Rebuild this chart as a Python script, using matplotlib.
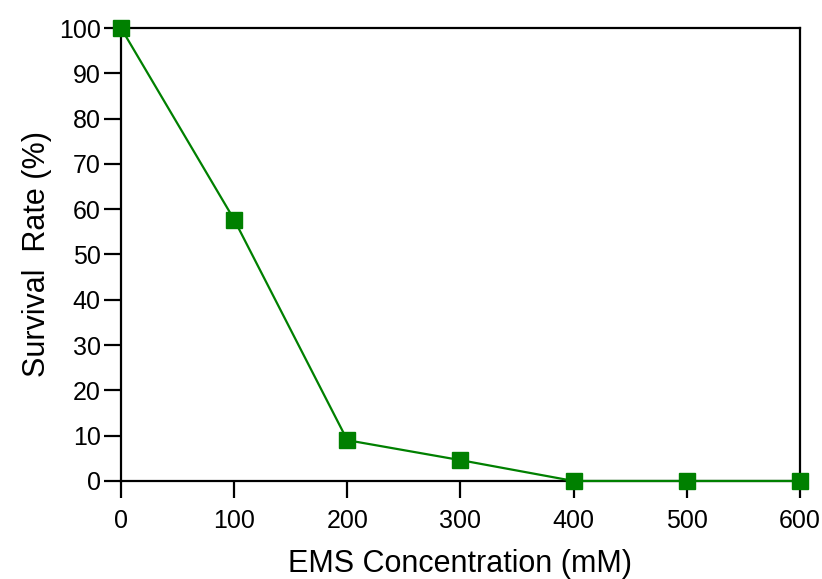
#!/usr/bin/env python3
"""Survival rate vs EMS concentration."""

import matplotlib
matplotlib.use("Agg")
import matplotlib.pyplot as plt

plt.rcParams["font.family"] = ["Liberation Sans", "DejaVu Sans"]

EMS_MM = [0, 100, 200, 300, 400, 500, 600]
SURVIVAL = [100, 57.7, 9.0, 4.6, 0, 0, 0]

X_TICKS = list(range(0, 601, 100))
Y_TICKS = list(range(0, 101, 10))

GREEN = "#008000"


def main():
    fig = plt.figure(figsize=(8.22, 5.79), dpi=100)
    ax = fig.add_axes([0.1472, 0.1693, 0.826, 0.7823])

    ax.plot(EMS_MM, SURVIVAL, color=GREEN, linewidth=1.6, marker="s",
            markersize=11, markerfacecolor=GREEN, markeredgecolor=GREEN,
            clip_on=False, zorder=5)

    ax.set_xlim(0, 600)
    ax.set_ylim(0, 100)
    ax.set_xticks(X_TICKS)
    ax.set_yticks(Y_TICKS)

    for sp in ax.spines.values():
        sp.set_linewidth(1.6)
        sp.set_color("black")
    ax.tick_params(direction="out", length=12.5, width=1.6, labelsize=18,
                   colors="black")
    ax.tick_params(axis="x", pad=8)
    ax.tick_params(axis="y", pad=2)

    ax.set_xlabel("EMS Concentration (mM)", fontsize=22, labelpad=11)
    ax.set_ylabel("Survival  Rate (%)", fontsize=22, labelpad=5)

    fig.savefig("out.png", dpi=100)
    plt.close(fig)


if __name__ == "__main__":
    main()
